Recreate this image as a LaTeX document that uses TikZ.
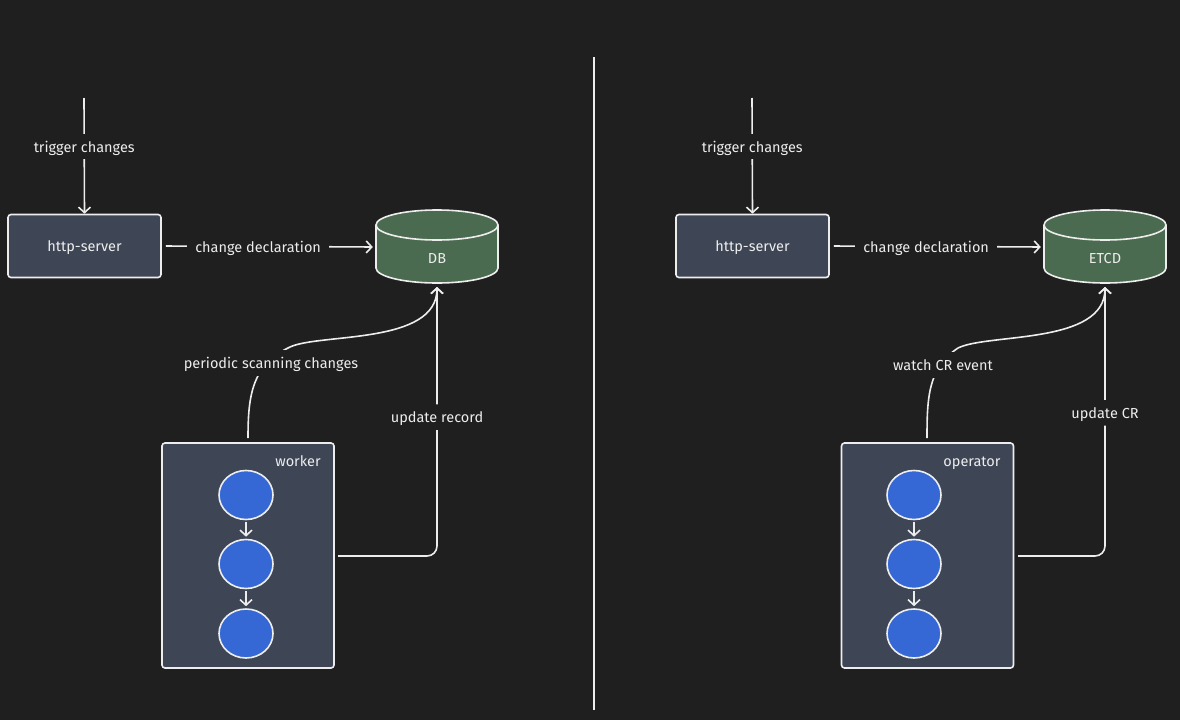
\documentclass[tikz,border=0pt]{standalone}
\usepackage{fontspec}
\setmainfont{Fira Sans}
\usetikzlibrary{arrows.meta,shapes.geometric}
\definecolor{bg}{HTML}{1F1F1F}
\definecolor{boxfill}{HTML}{3E4655}
\definecolor{dbfill}{HTML}{4B6B50}
\definecolor{dotfill}{HTML}{3568D4}
\definecolor{ink}{HTML}{EDEDED}
\tikzset{
  wire/.style={draw=ink,line width=1.6pt},
  arr/.style={wire,-{Straight Barb[length=5.5pt,width=12pt,line width=1.6pt]}},
  txt/.style={text=ink,font=\fontsize{14.5}{16}\selectfont,text height=12.5pt,text depth=1pt},
  lbl/.style={txt,fill=bg,inner xsep=8pt,inner ysep=6pt},
  srv/.style={txt,draw=ink,line width=1.6pt,fill=boxfill,rounded corners=3pt,minimum width=153pt,minimum height=63pt},
  grp/.style={draw=ink,line width=1.6pt,fill=boxfill,rounded corners=3pt,minimum width=172pt,minimum height=225pt},
  grplbl/.style={txt,inner sep=0pt},
  dot/.style={ellipse,draw=ink,line width=1.6pt,fill=dotfill,minimum width=54pt,minimum height=49pt,inner sep=0pt},
  dbshape/.style={minimum width=122pt,minimum height=73pt,inner sep=0pt},
  dbtext/.style={txt,inner sep=0pt},
}
\newcommand{\mycyl}[1]{%
  \fill[dbfill] (#1-61,225) -- (#1-61,268) .. controls (#1-61,276.3) and (#1-33.7,283) .. (#1,283) .. controls (#1+33.7,283) and (#1+61,276.3) .. (#1+61,268) -- (#1+61,225) -- cycle;
  \draw[wire] (#1-61,225) -- (#1-61,268) .. controls (#1-61,276.3) and (#1-33.7,283) .. (#1,283) .. controls (#1+33.7,283) and (#1+61,276.3) .. (#1+61,268) -- (#1+61,225);
  \draw[wire,fill=dbfill] (#1,225) ellipse [x radius=61pt, y radius=15pt];
}
\begin{document}
\begin{tikzpicture}[x=1pt,y=-1pt]
\fill[bg] (0,0) rectangle (1180,720);
\useasboundingbox (0,0) rectangle (1180,720);

% separator
\coordinate (septop) at (594,57);
\coordinate (sepbot) at (594,710);
\draw[wire] (septop) -- (sepbot);

% ===== left =====
\node[srv] (hs1) at (84.5,246) {http-server};
\coordinate (trig1) at (84,98);
\draw[arr] (trig1) -- node[lbl,pos=0.42] {trigger changes} (hs1.north);

\mycyl{437}
\node[dbshape] (db1) at (437,247) {};
\node[dbtext] (db1t) at (437,258) {DB};
\draw[arr,shorten <=4pt,shorten >=3pt] (hs1.east) -- node[lbl,pos=0.45] {change declaration} (db1.west);

\node[grp] (wk) at (248,555.5) {};
\node[grplbl] (wkl) at (298,461) {worker};
\node[dot] (w1) at (246,495) {};
\node[dot] (w2) at (246,564) {};
\node[dot] (w3) at (246,633.5) {};
\draw[arr,shorten <=2pt,shorten >=2pt] (w1) -- (w2);
\draw[arr,shorten <=2pt,shorten >=2pt] (w2) -- (w3);

\coordinate (s1) at (248,438);
\coordinate (m1) at (290,347);
\coordinate (e1) at (437,287);
\draw[wire] (s1) .. controls (248,395) and (252,365) .. (m1);
\draw[arr] (m1) .. controls (320,333) and (437,345) .. (e1);
\node[lbl] (p1) at (271,363) {periodic scanning changes};

\coordinate (u1) at (338,556);
\draw[arr,rounded corners=10pt] (u1) -| node[lbl,pos=0.758] {update record} (e1);

% ===== right =====
\node[srv] (hs2) at (752.5,246) {http-server};
\coordinate (trig2) at (752,98);
\draw[arr] (trig2) -- node[lbl,pos=0.42] {trigger changes} (hs2.north);

\mycyl{1105}
\node[dbshape] (db2) at (1105,247) {};
\node[dbtext] (db2t) at (1105,258) {ETCD};
\draw[arr,shorten <=4pt,shorten >=3pt] (hs2.east) -- node[lbl,pos=0.45] {change declaration} (db2.west);

\node[grp] (op) at (927.5,555.5) {};
\node[grplbl] (opl) at (972,461) {operator};
\node[dot] (o1) at (914,495) {};
\node[dot] (o2) at (914,564) {};
\node[dot] (o3) at (914,633.5) {};
\draw[arr,shorten <=2pt,shorten >=2pt] (o1) -- (o2);
\draw[arr,shorten <=2pt,shorten >=2pt] (o2) -- (o3);

\coordinate (s2) at (927,438);
\coordinate (m2) at (958,348);
\coordinate (e2) at (1105,287);
\draw[wire] (s2) .. controls (927,398) and (928,368) .. (m2);
\draw[arr] (m2) .. controls (988,333) and (1105,345) .. (e2);
\node[lbl] (p2) at (943,365) {watch CR event};

\coordinate (u2) at (1018,556);
\draw[arr,rounded corners=10pt] (u2) -| node[lbl,pos=0.766] {update CR} (e2);
\end{tikzpicture}
\end{document}
